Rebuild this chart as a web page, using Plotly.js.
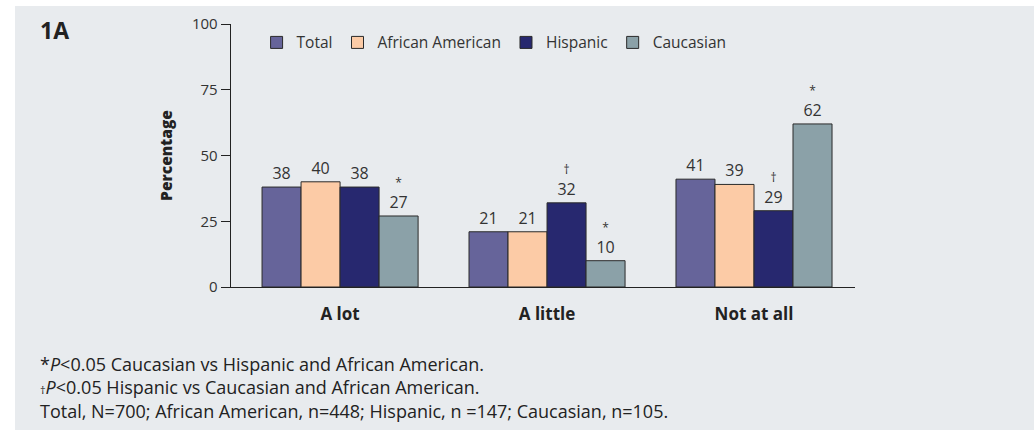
<!DOCTYPE html>
<html>
<head>
<meta charset="utf-8">
<script src="https://cdn.plot.ly/plotly-3.0.1.min.js"></script>
<style>
  html, body { margin:0; padding:0; background:#ffffff; }
  #chart { position:absolute; left:15px; top:6px; width:1019px; height:424px; }
</style>
</head>
<body>
<div id="chart"></div>
<script>
const categories = ["A lot", "A little", "Not at all"];
const seriesNames = ["Total", "African American", "Hispanic", "Caucasian"];
const totalVals = [38, 21, 41];
const africanAmericanVals = [40, 21, 39];
const hispanicVals = [38, 32, 29];
const caucasianVals = [27, 10, 62];
// significance marks: "*" Caucasian vs others, "†" Hispanic vs others
const totalMarks = ["", "", ""];
const africanAmericanMarks = ["", "", ""];
const hispanicMarks = ["", "†", "†"];
const caucasianMarks = ["*", "*", "*"];
const yTicks = [0, 25, 50, 75, 100];
const footnotes = [
  "*<i>P</i><0.05 Caucasian vs Hispanic and African American.",
  "<span style='font-size:11px'>†</span><i>P</i><0.05 Hispanic vs Caucasian and African American.",
  "Total, N=700; African American, n=448; Hispanic, n =147; Caucasian, n=105."
];

const colors = ["#66649a", "#fccba6", "#27286f", "#8ba1a8"];
const FONT = "'Open Sans', 'Noto Sans', sans-serif";

function labelText(vals, marks) {
  return vals.map((v, i) => marks[i]
    ? "<span style='font-size:12px'>" + marks[i] + "</span><br>" + v
    : String(v));
}

const seriesVals = [totalVals, africanAmericanVals, hispanicVals, caucasianVals];
const seriesMarks = [totalMarks, africanAmericanMarks, hispanicMarks, caucasianMarks];

const traces = seriesNames.map((name, k) => ({
  type: "bar",
  name: name,
  x: categories,
  y: seriesVals[k],
  text: labelText(seriesVals[k], seriesMarks[k]),
  textposition: "outside",
  texttemplate: "%{text}",
  cliponaxis: false,
  textfont: { family: FONT, size: 16, color: "#333333" },
  marker: { color: colors[k], line: { color: "#2a2a2a", width: 1 } },
  hoverinfo: "skip"
}));

const annotations = [
  { text: "<b>1A</b>", xref: "paper", yref: "paper", x: -0.3093, y: 0.977,
    xanchor: "left", yanchor: "middle", showarrow: false,
    font: { family: FONT, size: 23, color: "#222" } },
  { text: footnotes.join("<br>"), xref: "paper", yref: "paper",
    xanchor: "left", yanchor: "middle", align: "left", showarrow: false,
    x: -0.3093, y: -0.384,
    font: { family: FONT, size: 18, color: "#222" } }
];

const layout = {
  width: 1019, height: 424,
  margin: { l: 216, r: 179, t: 18, b: 143 },
  paper_bgcolor: "#e8ebee",
  plot_bgcolor: "rgba(0,0,0,0)",
  font: { family: FONT, size: 15, color: "#333" },
  barmode: "group",
  bargap: 0.246,
  bargroupgap: 0,
  showlegend: true,
  legend: {
    orientation: "h", x: 0.041, y: 0.993, xanchor: "left", yanchor: "top",
    bgcolor: "rgba(0,0,0,0)", font: { family: FONT, size: 15.5, color: "#333" },
    itemwidth: 30, tracegroupgap: 0
  },
  xaxis: {
    range: [-0.527, 2.488],
    showline: true, linecolor: "#222", linewidth: 1.3,
    ticks: "", showgrid: false, zeroline: false,
    tickfont: { family: FONT, size: 17, color: "#222", weight: "bold" },
    ticklabelstandoff: 11
  },
  yaxis: {
    range: [0, 100], tickvals: yTicks, ticktext: yTicks.map(String),
    showline: true, linecolor: "#222", linewidth: 1.3,
    ticks: "outside", ticklen: 9, tickcolor: "#222", tickwidth: 1,
    showgrid: false, zeroline: false,
    tickfont: { family: FONT, size: 15, color: "#333" },
    title: { text: "Percentage", standoff: 15,
      font: { family: FONT, size: 15.5, color: "#222", weight: 800 } }
  },
  annotations: annotations
};

Plotly.newPlot("chart", traces, layout, { displayModeBar: false, staticPlot: true });
</script>
</body>
</html>
